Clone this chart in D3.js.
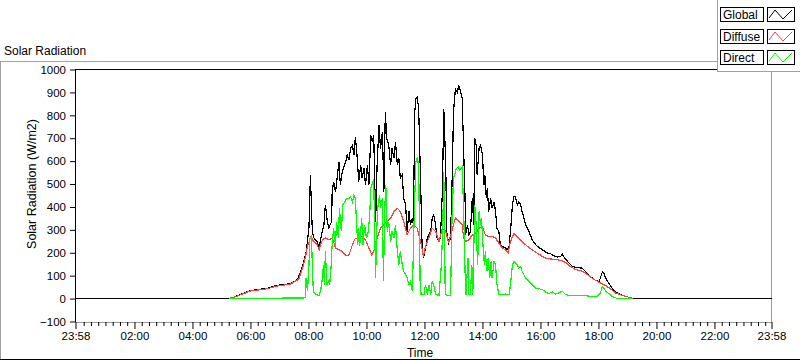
<!DOCTYPE html>
<html><head><meta charset="utf-8">
<script src="https://cdn.jsdelivr.net/npm/d3@7/dist/d3.min.js"></script>
<style>body{margin:0;background:#fff}svg{display:block}text{font-family:"Liberation Sans",Arial,sans-serif}</style>
</head><body><svg id="c" width="800" height="361"></svg>
<script>
// time in minutes of day (axis runs 23:58 -> 23:58), values in W/m2
const globalData = [[-2,0],[315,0],[326,7],[360,35],[395,45],[415,58],[443,65],[457,83],[463,113],[470,157],[476,213],[481,309],[484,539],[488,293],[491,265],[498,249],[502,222],[507,278],[512,322],[515,409],[519,336],[522,309],[528,336],[529,466],[532,510],[536,466],[540,539],[543,597],[546,496],[550,554],[557,597],[560,626],[564,604],[567,655],[571,670],[574,626],[577,706],[581,612],[584,510],[588,583],[591,526],[595,568],[598,496],[602,583],[605,496],[609,713],[612,684],[615,713],[619,336],[622,583],[626,757],[629,655],[633,728],[636,466],[639,814],[642,699],[646,670],[650,583],[653,655],[657,612],[660,684],[664,583],[667,612],[670,525],[674,539],[677,438],[681,409],[684,293],[688,380],[691,322],[695,351],[697,322],[700,814],[702,873],[705,880],[708,829],[712,510],[715,235],[718,177],[722,220],[726,264],[729,278],[733,293],[736,351],[739,365],[743,322],[746,264],[750,249],[753,264],[757,466],[760,829],[764,583],[766,293],[770,243],[774,264],[778,583],[780,814],[784,916],[788,901],[791,930],[795,901],[798,873],[801,655],[804,438],[805,278],[809,322],[812,278],[815,293],[819,438],[822,322],[824,699],[827,670],[829,539],[833,655],[836,670],[840,626],[843,496],[845,539],[848,438],[850,481],[853,380],[857,438],[860,394],[864,423],[867,380],[870,307],[874,293],[877,235],[881,228],[888,220],[891,213],[895,228],[898,293],[902,409],[905,445],[908,445],[912,409],[915,423],[919,409],[922,380],[926,351],[929,322],[933,307],[936,293],[943,257],[950,235],[957,223],[964,213],[974,199],[981,196],[988,187],[995,181],[1002,184],[1005,194],[1008,184],[1012,173],[1019,155],[1026,140],[1033,136],[1046,133],[1053,119],[1060,104],[1067,90],[1074,80],[1081,75],[1084,90],[1088,116],[1091,112],[1095,90],[1101,68],[1108,46],[1115,29],[1126,17],[1136,10],[1146,4],[1152,0],[1438,0]];
const diffuseData = [[315,0],[326,6],[360,33],[395,43],[415,55],[443,63],[460,85],[467,128],[474,185],[478,228],[485,271],[491,249],[498,235],[502,213],[505,235],[509,257],[515,264],[522,257],[529,264],[532,249],[536,220],[543,213],[550,206],[557,188],[564,191],[571,235],[577,264],[584,264],[591,271],[598,257],[605,220],[611,191],[615,206],[622,264],[629,307],[636,322],[643,336],[650,351],[657,380],[664,394],[670,380],[677,336],[684,278],[691,307],[698,322],[705,307],[712,249],[718,184],[722,228],[729,264],[736,307],[743,293],[750,249],[757,307],[764,293],[770,242],[778,307],[784,351],[791,336],[798,322],[801,264],[805,249],[812,257],[819,278],[826,285],[833,307],[840,315],[846,278],[853,271],[860,271],[867,264],[874,242],[881,220],[888,213],[893,199],[898,249],[905,285],[912,271],[922,249],[933,228],[943,213],[953,199],[964,184],[971,177],[981,173],[1002,167],[1012,158],[1022,140],[1033,126],[1043,122],[1053,112],[1064,94],[1074,80],[1084,68],[1095,57],[1105,42],[1115,25],[1126,16],[1136,10],[1146,4],[1152,0]];
const directData = [[315,0],[474,3],[475,90],[478,32],[481,148],[483,264],[486,271],[488,148],[490,32],[495,17],[502,14],[505,32],[509,90],[511,148],[513,61],[515,206],[518,61],[521,75],[524,61],[527,148],[529,235],[532,307],[536,228],[538,336],[542,264],[544,394],[548,293],[551,409],[555,423],[559,438],[564,438],[567,445],[571,423],[574,452],[577,438],[579,351],[582,235],[584,307],[586,228],[590,351],[593,235],[596,322],[600,264],[604,293],[607,380],[609,481],[613,510],[615,517],[619,90],[621,293],[624,409],[627,452],[629,394],[633,438],[635,75],[638,394],[640,496],[643,293],[646,336],[650,249],[653,293],[657,264],[660,322],[664,206],[667,148],[670,206],[674,148],[677,119],[681,104],[684,90],[688,61],[691,75],[695,32],[698,293],[702,597],[705,612],[708,583],[711,75],[713,17],[719,17],[722,61],[726,17],[729,61],[733,17],[736,75],[739,61],[743,17],[750,14],[755,148],[758,322],[760,554],[763,17],[768,14],[774,14],[777,351],[780,525],[782,539],[786,568],[790,575],[793,561],[798,575],[801,394],[804,119],[806,17],[810,177],[812,17],[815,17],[818,148],[820,17],[824,409],[827,322],[830,148],[833,380],[836,322],[838,351],[841,235],[844,148],[846,206],[849,119],[852,177],[855,90],[858,162],[860,90],[864,162],[867,148],[870,61],[874,17],[881,17],[888,20],[895,17],[898,61],[902,148],[905,162],[908,155],[912,148],[915,133],[919,140],[922,119],[929,90],[936,75],[943,61],[950,46],[957,43],[964,39],[969,32],[971,28],[977,22],[985,29],[991,20],[998,25],[1005,32],[1012,17],[1022,13],[1036,13],[1050,13],[1064,10],[1078,10],[1084,25],[1088,51],[1091,46],[1095,32],[1101,22],[1108,10],[1115,4],[1118,0],[1150,0]];

const seriesNames = ["Global","Diffuse","Direct"];
const seriesColors = ["#000000","#ff4040","#00ff00"];
const xMajorTicks = [-2,120,240,360,480,600,720,840,960,1080,1200,1320,1438];
const xTickLabels = ["23:58","02:00","04:00","06:00","08:00","10:00","12:00","14:00","16:00","18:00","20:00","22:00","23:58"];
const xMinorTicks = d3.range(15,1438,15).filter(m => m % 120 !== 0);
const yTicks = [-100,0,100,200,300,400,500,600,700,800,900,1000];

const svg = d3.select("#c");
const x = d3.scaleLinear().domain([-2,1438]).range([75.5,771.5]);
const y = d3.scaleLinear().domain([-100,1000]).range([321.5,69.5]);

// outer panel frame
svg.append("line").attr("x1",0).attr("x2",717).attr("y1",61.5).attr("y2",61.5).attr("stroke","#a0a0a0");
svg.append("line").attr("x1",0.5).attr("x2",0.5).attr("y1",61).attr("y2",360).attr("stroke","#a0a0a0");
svg.append("line").attr("x1",0).attr("x2",800).attr("y1",359.5).attr("y2",359.5).attr("stroke","#000");
svg.append("text").attr("x",4).attr("y",55).attr("font-size",12).attr("fill","#000").text("Solar Radiation");

// plot frame
svg.append("line").attr("x1",75).attr("x2",772).attr("y1",69.5).attr("y2",69.5).attr("stroke","#000");
svg.append("line").attr("x1",75.5).attr("x2",75.5).attr("y1",69).attr("y2",322).attr("stroke","#000");
svg.append("line").attr("x1",75).attr("x2",772).attr("y1",322.5).attr("y2",322.5).attr("stroke","#999");
svg.append("line").attr("x1",771.5).attr("x2",771.5).attr("y1",69).attr("y2",322).attr("stroke","#999");

const line = d3.line().x(d => x(d[0])).y(d => y(d[1]));
const plot = svg.append("g");
[globalData, diffuseData, directData].forEach((data, k) => {
  plot.append("path").datum(data).attr("d", line).attr("fill","none")
    .attr("stroke", seriesColors[k]).attr("stroke-width",1.2).attr("shape-rendering","crispEdges");
});

// axes
const gx = svg.append("g").attr("transform","translate(0,322)");
gx.call(d3.axisBottom(x).tickValues(xMinorTicks).tickSize(4).tickFormat(""));
const gx2 = svg.append("g").attr("transform","translate(0,322)");
gx2.call(d3.axisBottom(x).tickValues(xMajorTicks).tickSize(7).tickPadding(3).tickFormat((d,i)=>xTickLabels[i]));
const gy = svg.append("g").attr("transform","translate(75,0)");
gy.call(d3.axisLeft(y).tickValues(yTicks).tickSize(5).tickPadding(4).tickFormat(d3.format("d")));
[gx,gx2,gy].forEach(g => {
  g.select(".domain").remove();
  g.selectAll("line").attr("stroke","#000");
  g.selectAll("text").attr("font-size",11.5).attr("font-family","Liberation Sans, Arial, sans-serif").attr("fill","#000");
});

svg.append("text").attr("x",420).attr("y",357).attr("text-anchor","middle").attr("font-size",12).text("Time");
svg.append("text").attr("transform","translate(36,184) rotate(-90)").attr("text-anchor","middle").attr("font-size",12.5).text("Solar Radiation (W/m2)");

// legend
svg.append("rect").attr("x",718).attr("y",0).attr("width",82).attr("height",71).attr("fill","#fff");
svg.append("line").attr("x1",717.5).attr("x2",717.5).attr("y1",0).attr("y2",72).attr("stroke","#a0a0a0");
svg.append("line").attr("x1",717.5).attr("x2",800).attr("y1",71.5).attr("y2",71.5).attr("stroke","#a0a0a0");
const rowTops = [7,29,50];
seriesNames.forEach((n,i) => {
  const t = rowTops[i];
  svg.append("rect").attr("x",720.5).attr("y",t+0.5).attr("width",43).attr("height",14).attr("fill","#fff").attr("stroke","#000");
  svg.append("text").attr("x",723).attr("y",t+12).attr("font-size",12).text(n);
  svg.append("rect").attr("x",767.5).attr("y",t+0.5).attr("width",27).attr("height",14).attr("fill","#fff").attr("stroke","#000");
  svg.append("path").attr("d",`M${769},${t+11} L${775},${t+3} L${783},${t+12} L${792},${t+3}`).attr("fill","none").attr("stroke",seriesColors[i]);
});
</script></body></html>
